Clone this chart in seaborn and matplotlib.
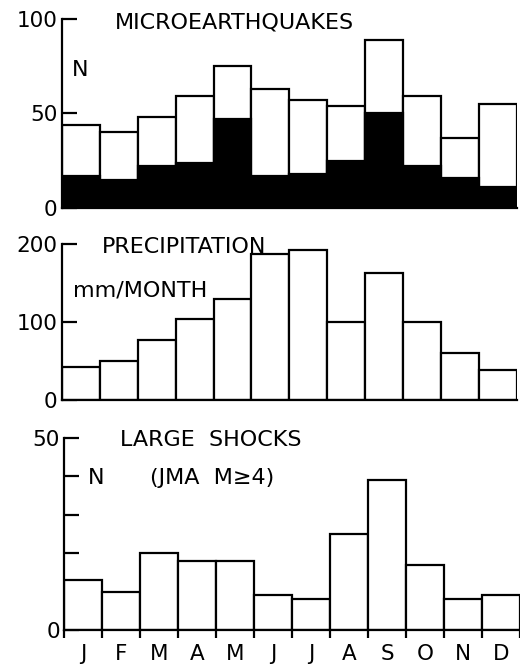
import numpy as np
import pandas as pd
import seaborn as sns
import matplotlib.pyplot as plt

sns.set_style("ticks", rc={"axes.edgecolor": "black", "text.color": "black",
                           "xtick.color": "black", "ytick.color": "black",
                           "axes.labelcolor": "black"})
plt.rcParams['font.family'] = ['DejaVu Sans']

month_labels = ["J", "F", "M", "A", "M", "J", "J", "A", "S", "O", "N", "D"]
micro_total = [44, 40, 48, 59, 75, 63, 57, 54, 89, 59, 37, 55]
micro_black = [17, 15, 22, 24, 47, 17, 18, 25, 50, 22, 16, 11]
precip = [42, 50, 77, 104, 130, 187, 192, 100, 163, 100, 60, 38]
large_shocks = [13, 10, 20, 18, 18, 9, 8, 25, 39, 17, 8, 9]

pos = np.arange(12)
df = pd.DataFrame({"pos": pos, "total": micro_total, "black": micro_black,
                   "precip": precip, "large": large_shocks})

lw = 1.6
fs = 15.5   # tick labels
tfs = 16    # panel texts

fig = plt.figure(figsize=(5.2, 6.66), dpi=100)
ax1 = fig.add_axes([0.119, 0.6877, 0.875, 0.2838])
ax2 = fig.add_axes([0.119, 0.3994, 0.875, 0.2342])
ax3 = fig.add_axes([0.123, 0.0541, 0.877, 0.2883])

# microearthquakes: white total with black lower part
sns.barplot(data=df, x="pos", y="total", color="white", edgecolor="black",
            linewidth=lw, width=1, ax=ax1, saturation=1)
sns.barplot(data=df, x="pos", y="black", color="black", edgecolor="black",
            linewidth=lw, width=1, ax=ax1, saturation=1)
sns.barplot(data=df, x="pos", y="precip", color="white", edgecolor="black",
            linewidth=lw, width=1, ax=ax2, saturation=1)
sns.barplot(data=df, x="pos", y="large", color="white", edgecolor="black",
            linewidth=lw, width=1, ax=ax3, saturation=1)

for ax in (ax1, ax2, ax3):
    ax.set_xlim(-0.5, 11.5)
    ax.set_xlabel("")
    ax.set_ylabel("")
    sns.despine(ax=ax, top=True, right=True)
    ax.spines["left"].set_linewidth(lw)
    ax.spines["bottom"].set_linewidth(lw)
    ax.tick_params(axis="y", direction="in", length=11, width=lw, labelsize=fs, pad=3)

ax1.set_ylim(0, 100)
ax1.set_yticks([0, 50, 100])
ax1.set_xticks([])
ax1.text(0.9, 98, "MICROEARTHQUAKES", fontsize=tfs, va="center")
ax1.text(-0.24, 73, "N", fontsize=tfs, va="center")

ax2.set_ylim(0, 200)
ax2.set_yticks([0, 100, 200])
ax2.set_xticks([])
ax2.text(0.55, 196, "PRECIPITATION", fontsize=tfs, va="center")
ax2.text(-0.21, 141, "mm/MONTH", fontsize=tfs, va="center")

ax3.set_ylim(0, 50)
ax3.set_yticks(np.arange(0, 51, 10))
ax3.set_yticklabels(["0", "", "", "", "", "50"])
ax3.set_xticks(pos)
ax3.set_xticklabels(month_labels, fontsize=fs)
ax3.set_xticks(np.arange(-0.5, 12, 1), minor=True)
ax3.tick_params(axis="x", which="major", length=0, pad=10)
ax3.tick_params(axis="x", which="minor", direction="out", length=6, width=lw)
ax3.text(0.97, 49.5, "LARGE  SHOCKS", fontsize=tfs, va="center")
ax3.text(0.13, 39.6, "N", fontsize=tfs, va="center")
ax3.text(1.76, 39.6, "(JMA  M\u22654)", fontsize=tfs, va="center")

fig.savefig("out.png", dpi=100)
